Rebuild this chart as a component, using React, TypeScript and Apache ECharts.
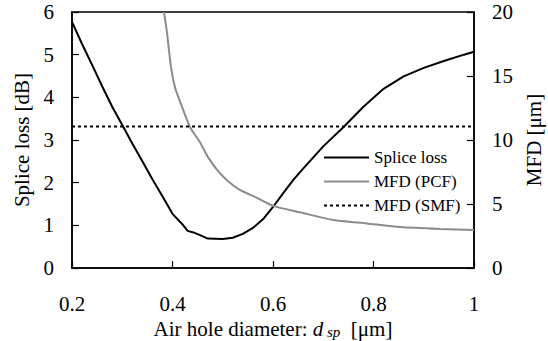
import React, { useEffect, useRef } from "react";
import * as echarts from "echarts";

const xTicks = [0.2, 0.4, 0.6, 0.8, 1.0];
const spliceLoss: [number, number][] = [
  [0.2, 5.77], [0.22, 5.25], [0.24, 4.76], [0.26, 4.26], [0.28, 3.78], [0.3, 3.35],
  [0.32, 2.92], [0.34, 2.5], [0.36, 2.08], [0.38, 1.68], [0.4, 1.27], [0.42, 1.02],
  [0.43, 0.87], [0.44, 0.84], [0.455, 0.77], [0.47, 0.69], [0.5, 0.68], [0.52, 0.71],
  [0.54, 0.8], [0.56, 0.94], [0.58, 1.14], [0.6, 1.43], [0.62, 1.75], [0.64, 2.06],
  [0.66, 2.33], [0.7, 2.85], [0.74, 3.3], [0.78, 3.78], [0.82, 4.2], [0.86, 4.49],
  [0.9, 4.69], [0.94, 4.85], [0.98, 5.0], [1.0, 5.07],
];
const mfdPcf: [number, number][] = [
  [0.383, 20], [0.389, 18.4], [0.397, 15.7], [0.405, 14.1], [0.415, 13.0], [0.435, 11.0],
  [0.455, 9.8], [0.47, 8.7], [0.49, 7.6], [0.51, 6.8], [0.534, 6.1], [0.567, 5.5],
  [0.6, 4.85], [0.654, 4.35], [0.72, 3.75], [0.787, 3.48], [0.853, 3.2], [0.932, 3.05],
  [1.0, 2.97],
];
const mfdSmf: [number, number][] = [[0.2, 11.05], [1.0, 11.05]];
const seriesNames = ["Splice loss", "MFD (PCF)", "MFD (SMF)"];

const FONT = "'Liberation Serif', 'Times New Roman', 'DejaVu Serif', serif";

export default function App() {
  const ref = useRef<HTMLDivElement>(null);
  useEffect(() => {
    document.body.style.margin = "0";
    const chart = echarts.init(ref.current!, null, { renderer: "svg" });
    const axisLine = { show: true, lineStyle: { color: "#000", width: 1.5 } };
    const tick = { show: true, inside: true, length: 7, lineStyle: { color: "#000", width: 1.2 } };
    const labelStyle = { fontFamily: FONT, fontSize: 21, color: "#000", fontWeight: "normal" as const };
    const legendBase = {
      left: 323,
      orient: "vertical" as const,
      itemWidth: 45,
      itemHeight: 14,
      padding: 0,
      itemGap: 0,
      itemStyle: { opacity: 0 },
      textStyle: { fontFamily: FONT, fontSize: 17, color: "#000", lineHeight: 17 },
    };
    chart.setOption({
      animation: false,
      textStyle: { fontFamily: FONT, color: "#000" },
      grid: {
        left: 72, right: 74, top: 12, bottom: 73,
        containLabel: false, outerBoundsMode: "none",
        show: true, borderColor: "#000", borderWidth: 1.5,
      },
      legend: [
        { ...legendBase, top: 149, data: [seriesNames[0]] },
        { ...legendBase, top: 173, data: [seriesNames[1]] },
        { ...legendBase, top: 197, data: [seriesNames[2]] },
      ],
      xAxis: {
        type: "value", min: 0.2, max: 1.0, interval: 0.2,
        axisLine, axisTick: tick,
        splitLine: { show: false },
        axisLabel: {
          margin: 25, ...labelStyle,
          formatter: (v: number) => {
            const m = xTicks.find((t) => Math.abs(t - v) < 1e-6);
            return m === undefined ? "" : String(parseFloat(m.toFixed(1)));
          },
        },
        name: "{a|Air hole diameter: }{i|d}{s| sp}{a|  [μm]}",
        nameLocation: "middle",
        nameGap: 48,
        nameTextStyle: {
          ...labelStyle,
          rich: {
            a: { ...labelStyle },
            i: { ...labelStyle, fontStyle: "italic" },
            s: { ...labelStyle, fontSize: 15, fontStyle: "italic", padding: [6, 0, 0, 0] },
          },
        },
      },
      yAxis: [
        {
          type: "value", min: 0, max: 6, interval: 1,
          axisLine, axisTick: tick,
          splitLine: { show: false },
          axisLabel: { margin: 18, ...labelStyle },
          name: "Splice loss [dB]", nameLocation: "middle", nameGap: 36, nameRotate: 90,
          nameTextStyle: { ...labelStyle },
        },
        {
          type: "value", min: 0, max: 20, interval: 5, position: "right",
          axisLine, axisTick: tick,
          splitLine: { show: false },
          axisLabel: { margin: 18, ...labelStyle },
          name: "MFD [μm]", nameLocation: "middle", nameGap: 48, nameRotate: 90,
          nameTextStyle: { ...labelStyle },
        },
      ],
      series: [
        {
          name: seriesNames[0], type: "line", yAxisIndex: 0, data: spliceLoss,
          symbol: "none", lineStyle: { color: "#000", width: 2 }, itemStyle: { color: "#000" },
        },
        {
          name: seriesNames[1], type: "line", yAxisIndex: 1, data: mfdPcf, smooth: 0.2,
          symbol: "none", lineStyle: { color: "#8c8c8c", width: 2 }, itemStyle: { color: "#8c8c8c" },
        },
        {
          name: seriesNames[2], type: "line", yAxisIndex: 1, data: mfdSmf,
          symbol: "none", lineStyle: { color: "#000", width: 2, type: [3, 3] }, itemStyle: { color: "#000" },
        },
      ],
    });
    return () => chart.dispose();
  }, []);
  return <div ref={ref} style={{ width: 548, height: 341 }} />;
}
